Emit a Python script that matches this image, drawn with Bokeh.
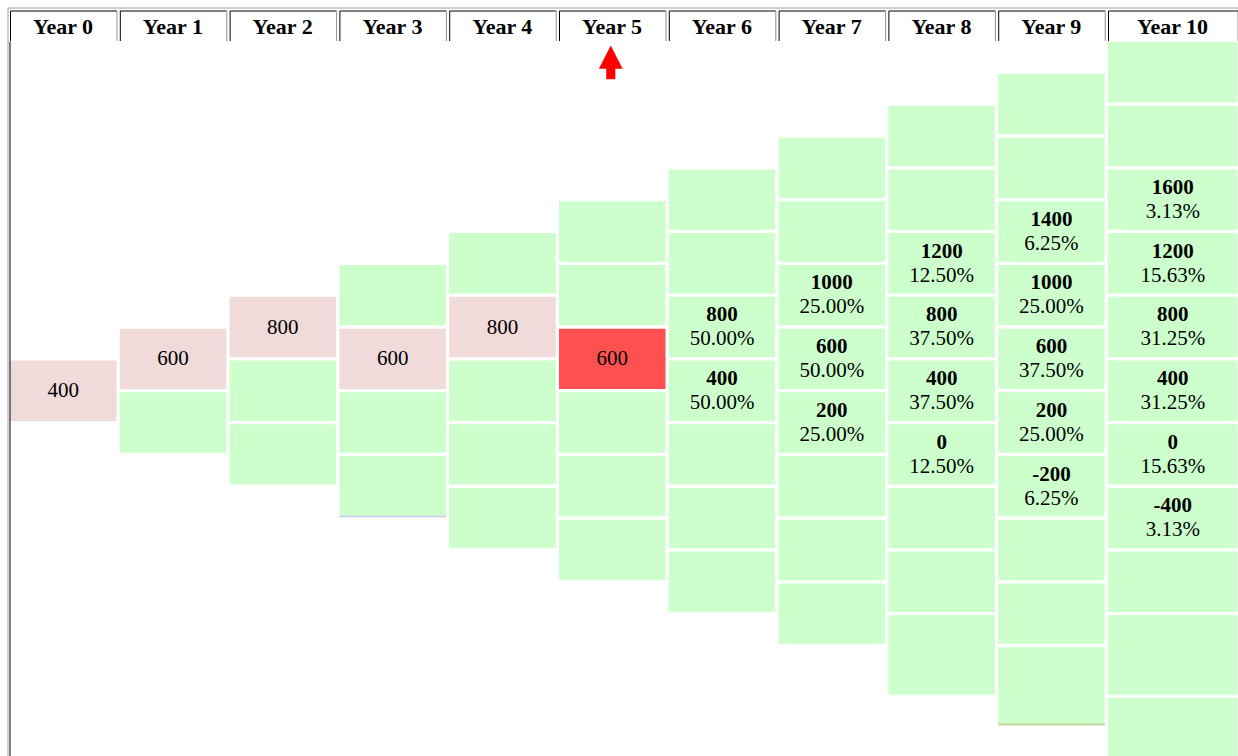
from bokeh.plotting import figure
from bokeh.models import ColumnDataSource, Range1d
from bokeh.core.properties import value
from bokeh.embed import file_html
from bokeh.resources import INLINE

# ---------------- data ----------------
years = ["Year 0", "Year 1", "Year 2", "Year 3", "Year 4", "Year 5",
         "Year 6", "Year 7", "Year 8", "Year 9", "Year 10"]
current_year = 5
path_values = [400, 600, 800, 600, 800, 600]          # realised path, years 0-5

y6_values = [800, 400]
y6_probs = ["50.00%", "50.00%"]
y7_values = [1000, 600, 200]
y7_probs = ["25.00%", "50.00%", "25.00%"]
y8_values = [1200, 800, 400, 0]
y8_probs = ["12.50%", "37.50%", "37.50%", "12.50%"]
y9_values = [1400, 1000, 600, 200, -200]
y9_probs = ["6.25%", "25.00%", "37.50%", "25.00%", "6.25%"]
y10_values = [1600, 1200, 800, 400, 0, -400]
y10_probs = ["3.13%", "15.63%", "31.25%", "31.25%", "15.63%", "3.13%"]

future_values = {6: y6_values, 7: y7_values, 8: y8_values, 9: y9_values, 10: y10_values}
future_probs = {6: y6_probs, 7: y7_probs, 8: y8_probs, 9: y9_probs, 10: y10_probs}

# ---------------- layout / style ----------------
FONT = "Liberation Serif"
FS = "21px"
HFS = "22px"
GREEN = "#CCFFCC"
PINK = "#F0DADA"
RED = "#FF5050"

n_cols = len(years)
COL_X0, COL_PITCH, COL_W, LAST_COL_W = 9.5, 109.8, 106.5, 129.5
ROW_Y0 = 41.5
ROW_HEIGHTS = [31.85] * 19 + [50.8, 29.8, 60.0]
GAP = 3.3

row_edges = [ROW_Y0]
for h in ROW_HEIGHTS:
    row_edges.append(row_edges[-1] + h)


def col_left(j):
    return COL_X0 + j * COL_PITCH


def col_right(j):
    return col_left(j) + (LAST_COL_W if j == n_cols - 1 else COL_W)


# node index (from top) of the realised path in each column
path_idx = [0]
for k in range(1, len(path_values)):
    path_idx.append(path_idx[-1] + (1 if path_values[k] < path_values[k - 1] else 0))

cells = dict(left=[], right=[], top=[], bottom=[], color=[])
single = dict(x=[], y=[], text=[])
bold = dict(x=[], y=[], text=[])
pct = dict(x=[], y=[], text=[])
last_bottom = {}

for j in range(n_cols):
    for i in range(j + 1):
        r = (n_cols - 1 - j) + 2 * i
        top = row_edges[r]
        bottom = row_edges[r + 2] - GAP
        left, right = col_left(j), col_right(j)
        color = GREEN
        if j <= current_year and i == path_idx[j]:
            color = RED if j == current_year else PINK
            single["x"].append((left + right) / 2)
            single["y"].append((top + bottom) / 2 - 0.5)
            single["text"].append(str(path_values[j]))
        if j > current_year:
            k = i - path_idx[current_year]
            if 0 <= k < len(future_values[j]):
                cx = (left + right) / 2
                bold["x"].append(cx)
                bold["y"].append(top + 17.5)
                bold["text"].append(str(future_values[j][k]))
                pct["x"].append(cx)
                pct["y"].append(top + 41.5)
                pct["text"].append(future_probs[j][k])
        cells["left"].append(left)
        cells["right"].append(right)
        cells["top"].append(top)
        cells["bottom"].append(bottom)
        cells["color"].append(color)
        last_bottom[j] = bottom

p = figure(width=1238, height=756, x_range=Range1d(0, 1238), y_range=Range1d(756, 0),
           output_backend="svg", toolbar_location=None, min_border=0)
p.axis.visible = False
p.grid.visible = False
p.outline_line_color = None
p.background_fill_color = "white"
p.border_fill_color = "white"

p.quad(left="left", right="right", top="top", bottom="bottom", fill_color="color",
       line_color=None, source=ColumnDataSource(cells))

# faint bottom borders seen under two of the last cells
p.segment(x0=[col_left(3), col_left(9)], y0=[last_bottom[3], last_bottom[9]],
          x1=[col_right(3), col_right(9)], y1=[last_bottom[3], last_bottom[9]],
          line_color=["#C8CCF0", "#C8D49C"], line_width=[1.5, 2])

# outer table border and left cell border
p.segment(x0=[7.5, 7.5], y0=[7.5, 7.5], x1=[1238, 7.5], y1=[7.5, 756],
          line_color="#A0A0A0", line_width=1)
p.segment(x0=[9.5], y0=[41], x1=[9.5], y1=[756], line_color="black", line_width=1)

# header cells
hdr = dict(x=[], text=[])
hx0, hy0, hx1, hy1 = [], [], [], []
gx0, gy0, gx1, gy1 = [], [], [], []
for j, name in enumerate(years):
    left = col_left(j) + 0.5
    right = col_right(j) + 0.5
    hdr["x"].append((col_left(j) + col_right(j)) / 2)
    hdr["text"].append(name)
    hx0 += [left, left]
    hy0 += [10.5, 10.5]
    hx1 += [right, left]
    hy1 += [10.5, 40.5]
    gx0.append(right)
    gy0.append(10.5)
    gx1.append(right)
    gy1.append(40.5)
p.segment(x0=hx0, y0=hy0, x1=hx1, y1=hy1, line_color="black", line_width=1)
p.segment(x0=gx0, y0=gy0, x1=gx1, y1=gy1, line_color="#909090", line_width=1)
hsrc = ColumnDataSource(dict(x=hdr["x"], y=[25.5] * len(hdr["x"]), text=hdr["text"]))
p.text(x="x", y="y", text="text", source=hsrc, text_font=value(FONT), text_font_size=HFS,
       text_font_style="bold", text_align="center", text_baseline="middle", text_color="black")

# current-year arrow
ax = (col_left(current_year) + col_right(current_year)) / 2 - 1.5
p.patch(x=[ax, ax + 11.5, ax + 4.3, ax + 4.3, ax - 4.3, ax - 4.3, ax - 11.5],
        y=[45.5, 68, 68, 78.5, 78.5, 68, 68], fill_color="#FF0000", line_color="#FF0000",
        line_width=0.5)

# texts
p.text(x="x", y="y", text="text", source=ColumnDataSource(single), text_font=value(FONT),
       text_font_size=FS, text_align="center", text_baseline="middle", text_color="black")
p.text(x="x", y="y", text="text", source=ColumnDataSource(bold), text_font=value(FONT),
       text_font_size=FS, text_font_style="bold", text_align="center",
       text_baseline="middle", text_color="black")
p.text(x="x", y="y", text="text", source=ColumnDataSource(pct), text_font=value(FONT),
       text_font_size=FS, text_align="center", text_baseline="middle", text_color="black")

open("out.html", "w").write(file_html(p, INLINE))
